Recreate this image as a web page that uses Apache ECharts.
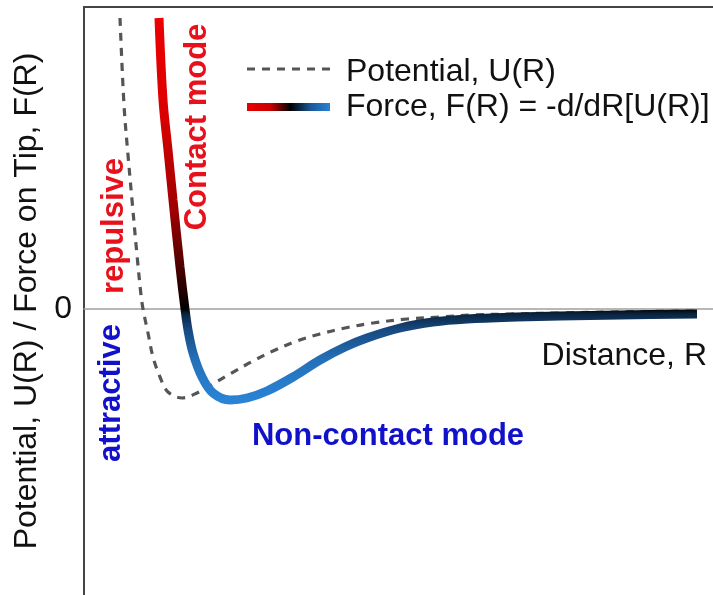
<!DOCTYPE html>
<html>
<head>
<meta charset="utf-8">
<script src="https://cdn.jsdelivr.net/npm/echarts@6/dist/echarts.min.js"></script>
<style>html,body{margin:0;padding:0;background:#fff}#chart{width:713px;height:595px}</style>
</head>
<body>
<div id="chart"></div>
<script>
// Distance, R (arbitrary units)
const potentialR = [0.36,0.40,0.44,0.48,0.53,0.57,0.59,0.64,0.69,0.76,0.84,0.98,1.13,1.29,1.46,1.69,1.89,2.13,2.36,2.61,2.89,3.23,3.56,3.89,4.26,4.76,5.29,6.13];
const potentialU = [2.91,2.04,1.54,1.09,0.54,0.14,0.00,-0.24,-0.48,-0.68,-0.83,-0.89,-0.84,-0.75,-0.65,-0.52,-0.42,-0.32,-0.25,-0.19,-0.14,-0.10,-0.08,-0.06,-0.05,-0.04,-0.03,-0.02];
const forceR = [0.75,0.79,0.84,0.89,0.96,1.01,1.04,1.09,1.18,1.29,1.46,1.63,1.83,2.09,2.36,2.61,2.83,3.16,3.49,3.83,4.33,4.76,5.36,6.13];
const forceF = [2.91,2.09,1.59,1.09,0.42,0.00,-0.21,-0.44,-0.68,-0.84,-0.91,-0.89,-0.82,-0.68,-0.51,-0.38,-0.29,-0.19,-0.13,-0.10,-0.08,-0.07,-0.06,-0.05];
const yTickLabels = [0];
const legendNames = ['Potential, U(R)', 'Force, F(R) = -d/dR[U(R)]'];

const FONT = "'Liberation Sans', Arial, Helvetica, sans-serif";
const zip = (a, b) => a.map((v, i) => [v, b[i]]);

// colour ramp for the force curve (by value): blue (attractive) -> black (0) -> red (repulsive)
const rampStops = [[-1, [43,136,220]], [-0.5, [36,112,184]], [-0.2, [23,72,126]], [-0.05, [10,37,64]], [0, [0,0,0]], [0.5, [90,0,0]], [1.0, [160,0,0]], [2.0, [221,0,0]], [3.0, [238,0,0]]];
const rampColors = [];
for (let i = 0; i <= 80; i++) {
  const v = -1 + i * 0.05;
  let k = 0;
  while (k < rampStops.length - 2 && v > rampStops[k + 1][0]) k++;
  const [v0, c0] = rampStops[k], [v1, c1] = rampStops[k + 1];
  const t = Math.min(1, Math.max(0, (v - v0) / (v1 - v0)));
  rampColors.push('rgb(' + c0.map((c, j) => Math.round(c + (c1[j] - c) * t)).join(',') + ')');
}

const chart = echarts.init(document.getElementById('chart'));
const legendGrad = new echarts.graphic.LinearGradient(0, 0, 1, 0, [
  {offset: 0, color: '#ee0000'}, {offset: 0.3, color: '#cc0000'},
  {offset: 0.52, color: '#000000'}, {offset: 0.75, color: '#1a5a9a'}, {offset: 1, color: '#2b8ae0'}
]);
chart.setOption({
  animation: false,
  backgroundColor: '#fff',
  grid: {left: 84, top: 7, right: 0, bottom: 0, containLabel: false, outerBoundsMode: 'none'},
  xAxis: [{
    type: 'value', min: 0, max: 6.29,
    axisLine: {show: true, onZero: true, lineStyle: {color: '#a0a0a0', width: 1.5}},
    axisTick: {show: false}, axisLabel: {show: false}, splitLine: {show: false},
    name: 'Distance, R', nameLocation: 'end', nameGap: -6,
    nameTextStyle: {fontFamily: FONT, fontSize: 32, color: '#111', align: 'right', verticalAlign: 'top', padding: [31, 0, 0, 0]}
  }, {
    type: 'value', min: 0, max: 6.29, position: 'top',
    axisLine: {show: true, onZero: false, lineStyle: {color: '#444', width: 2}},
    axisTick: {show: false}, axisLabel: {show: false}, splitLine: {show: false}
  }],
  yAxis: {
    type: 'value', min: -2.86, max: 3.02,
    axisLine: {show: true, onZero: false, lineStyle: {color: '#444', width: 2}},
    axisTick: {show: false}, splitLine: {show: false},
    axisLabel: {customValues: yTickLabels, formatter: v => String(v), fontFamily: FONT, fontSize: 32, color: '#111', margin: 12},
    name: 'Potential, U(R) / Force on Tip, F(R)', nameLocation: 'middle', nameGap: 38,
    nameTextStyle: {fontFamily: FONT, fontSize: 32, color: '#111'}
  },
  visualMap: {
    show: false, type: 'continuous', seriesIndex: 1, dimension: 1,
    min: -1, max: 3,
    inRange: {color: rampColors}
  },
  series: [{
    name: legendNames[0], type: 'line', data: zip(potentialR, potentialU),
    smooth: 0.35, symbol: 'none', z: 2,
    lineStyle: {color: '#555', width: 3.2, type: [8, 7]}
  }, {
    name: legendNames[1], type: 'line', data: zip(forceR, forceF),
    smooth: 0.35, symbol: 'none', z: 3,
    lineStyle: {width: 9, cap: 'butt'}
  }],
  graphic: [
    {type: 'line', shape: {x1: 247, y1: 69, x2: 330, y2: 69}, style: {stroke: '#555', lineWidth: 3.2, lineDash: [8, 7]}},
    {type: 'text', x: 346, y: 72, style: {text: legendNames[0], font: '32px ' + FONT, fill: '#111', verticalAlign: 'middle'}},
    {type: 'line', shape: {x1: 247, y1: 107, x2: 330, y2: 107}, style: {stroke: legendGrad, lineWidth: 8}},
    {type: 'text', x: 346, y: 107, style: {text: legendNames[1], font: '32px ' + FONT, fill: '#111', verticalAlign: 'middle'}},
    {type: 'text', x: 197, y: 127, rotation: Math.PI / 2, style: {text: 'Contact mode', font: 'bold 31px ' + FONT, fill: '#e8101a', align: 'center', verticalAlign: 'middle'}},
    {type: 'text', x: 114, y: 226, rotation: Math.PI / 2, style: {text: 'repulsive', font: 'bold 31px ' + FONT, fill: '#e8101a', align: 'center', verticalAlign: 'middle'}},
    {type: 'text', x: 111, y: 393, rotation: Math.PI / 2, style: {text: 'attractive', font: 'bold 31px ' + FONT, fill: '#1111cc', align: 'center', verticalAlign: 'middle'}},
    {type: 'text', x: 388, y: 436, style: {text: 'Non-contact mode', font: 'bold 31px ' + FONT, fill: '#1111cc', align: 'center', verticalAlign: 'middle'}}
  ]
});
</script>
</body>
</html>
